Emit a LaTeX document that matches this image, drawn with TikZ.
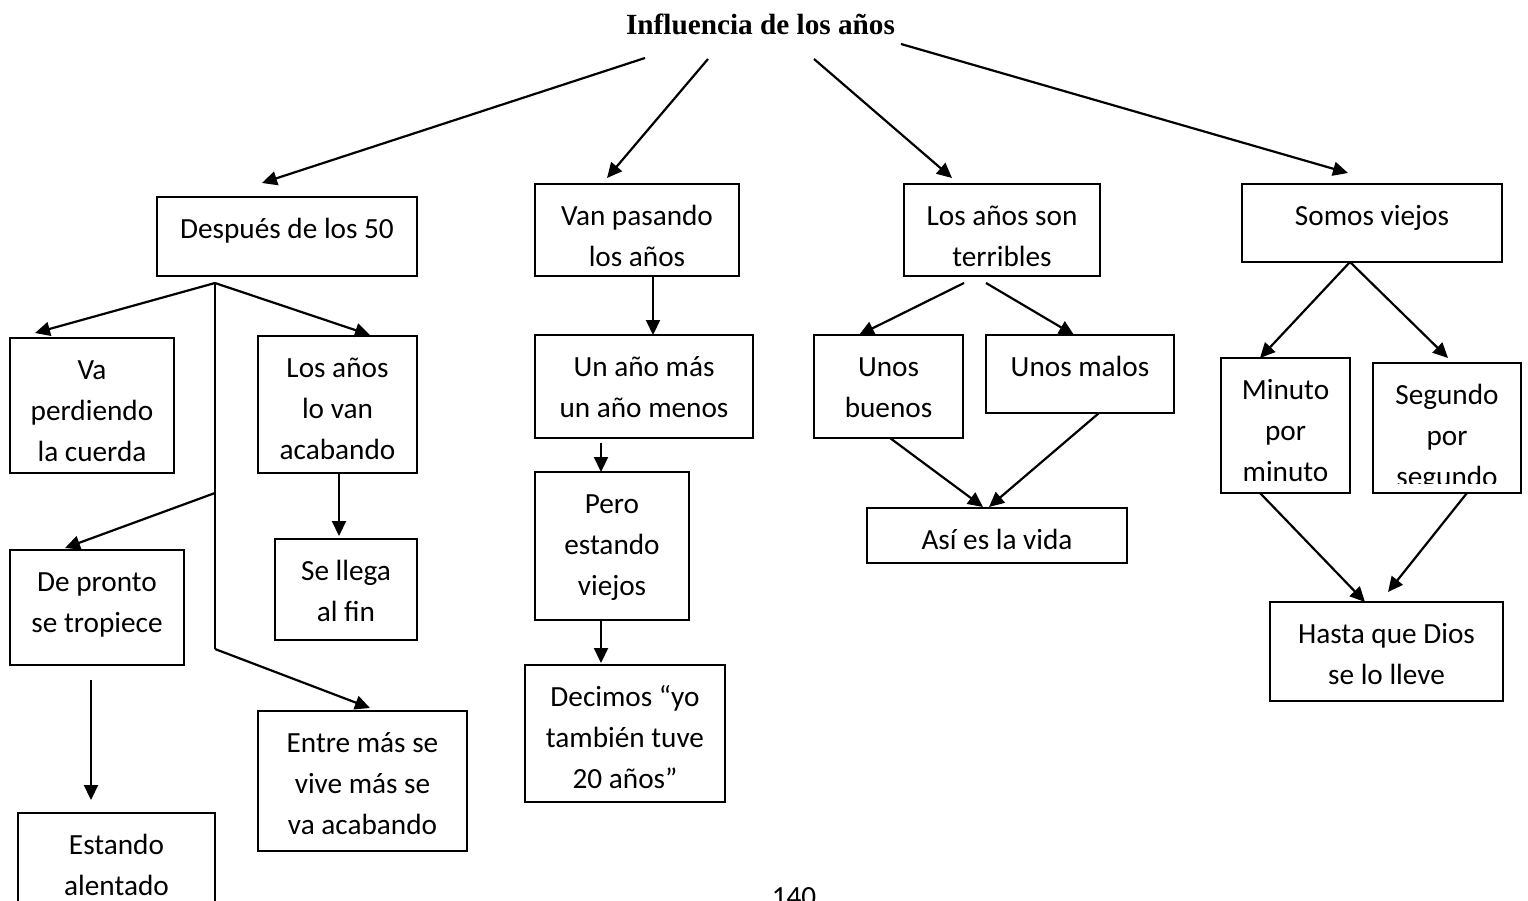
\documentclass[tikz,border=0pt]{standalone}
\usepackage{fontspec}
\setmainfont{Carlito}
\newfontfamily\titlefont{Liberation Serif}
\usetikzlibrary{arrows.meta,calc}
\tikzset{
  box/.style={draw, line width=1.8pt, rectangle, inner sep=0pt, outer sep=0pt},
  txt/.style={anchor=north, inner sep=0pt, align=center, font=\fontsize{29.25}{41}\selectfont},
  arr/.style={line width=2.2pt, -{Triangle[length=15pt,width=14pt]}},
  ln/.style={line width=2.2pt}
}
\newcommand\cbox[6]{%
  \node[box, minimum width={#4-#2}, minimum height={#5-#3}] (#1) at ({(#2+#4)/2},{(#3+#5)/2}) {};
  \node[txt] (#1t) at ([yshift=-12.5pt]#1.north) {\strut #6};
}
\begin{document}
\begin{tikzpicture}[x=1pt,y=-1pt]
\useasboundingbox (0,0) rectangle (1528,901);
\fill[white] (0,0) rectangle (1528,901);
% title
\node[anchor=base, inner sep=0pt, font=\titlefont\bfseries\fontsize{29.25}{35}\selectfont] (title) at (760.5,35) {Influencia de los años};
\coordinate (t1) at (645,58);
\coordinate (t2) at (708,59);
\coordinate (t3) at (814,59);
\coordinate (t4) at (901,44);
% boxes
\cbox{b1}{157}{197}{417}{276}{Después de los 50}
\cbox{b2}{535}{184}{739}{276}{Van pasando\\los años}
\cbox{b3}{904}{184}{1100}{276}{Los años son\\terribles}
\cbox{b4}{1242}{184}{1502}{262}{Somos viejos}
\cbox{va}{10}{338}{174}{473}{Va\\perdiendo\\la cuerda}
\cbox{la}{258}{336}{417}{473}{Los años\\lo van\\acabando}
\cbox{sl}{275}{539}{417}{640}{Se llega\\al fin}
\cbox{dp}{10}{550}{184}{665}{De pronto\\se tropiece}
\cbox{ea}{18}{813}{215}{930}{Estando\\alentado}
\cbox{em}{258}{711}{467}{851}{Entre más se\\vive más se\\va acabando}
\cbox{ua}{535}{335}{753}{438}{Un año más\\un año menos}
\cbox{pe}{535}{472}{689}{620}{Pero\\estando\\viejos}
\cbox{de}{525}{665}{725}{802}{Decimos “yo\\también tuve\\20 años”}
\cbox{ub}{814}{335}{963}{438}{Unos\\buenos}
\cbox{um}{986}{335}{1174}{413}{Unos malos}
\cbox{av}{867}{508}{1127}{563}{Así es la vida}
\cbox{mi}{1221}{358}{1350}{493}{Minuto\\por\\minuto}
\node[box, minimum width=148, minimum height=130] (sg) at (1447,428) {};
\begin{scope}
\clip (1373,363) rectangle (1521,483);
\node[txt] (sgt) at ([yshift=-13pt]sg.north) {\strut Segundo\\por\\segundo};
\end{scope}
\cbox{hd}{1270}{602}{1503}{701}{Hasta que Dios\\se lo lleve}
% page number
\node[anchor=base, inner sep=0pt, font=\fontsize{29.25}{35}\selectfont] (pg) at (794,906) {140};
% title arrows
\draw[arr] (t1) -- ($(b1.north west)+(105,-14)$);
\draw[arr] (t2) -- ($(b2.north west)+(72,-6)$);
\draw[arr] (t3) -- ($(b3.north west)+(48,-6)$);
\draw[arr] (t4) -- ($(b4.north west)+(106,-11)$);
% left group
\coordinate (j1) at ($(b1.south west)+(58,7)$);
\coordinate (j2) at ($(b1.south west)+(58,217)$);
\coordinate (j3) at ($(b1.south west)+(58,373)$);
\draw[ln] (j1) -- (j3);
\draw[arr] (j1) -- ($(va.north west)+(25,-5)$);
\draw[arr] (j1) -- ($(la.north west)+(112,-1)$);
\draw[arr] (j2) -- ($(dp.north west)+(55,-2)$);
\draw[arr] (j3) -- ($(em.north west)+(112,-3)$);
\draw[arr] (la.south -| 339,0) -- ($(sl.north west)+(64,-3)$);
\draw[arr] ($(dp.south west)+(81,15)$) -- ($(ea.north west)+(73,-13)$);
% centre group
\draw[arr] (b2.south -| 653,0) -- (ua.north -| 653,0);
\draw[arr] ($(ua.south west)+(66,5)$) -- (pe.north -| 601,0);
\draw[arr] (pe.south -| 601,0) -- ($(de.north west)+(76,-2)$);
\draw[arr] ($(b3.south west)+(60,7)$) -- ($(ub.north west)+(45,0)$);
\draw[arr] ($(b3.south west)+(82,7)$) -- ($(um.north west)+(88,0)$);
\draw[arr] ($(ub.south west)+(76,0)$) -- ($(av.north west)+(116,-1)$);
\draw[arr] ($(um.south west)+(113,0)$) -- ($(av.north west)+(122,-1)$);
% right group
\draw[arr] (b4.south -| 1350,0) -- ($(mi.north west)+(39,0)$);
\draw[arr] (b4.south -| 1350,0) -- ($(sg.north west)+(75,-5)$);
\draw[arr] ($(mi.south west)+(39,0)$) -- ($(hd.north west)+(95,0)$);
\draw[arr] ($(sg.south west)+(94,0)$) -- ($(hd.north west)+(118,-10)$);
\end{tikzpicture}
\end{document}
